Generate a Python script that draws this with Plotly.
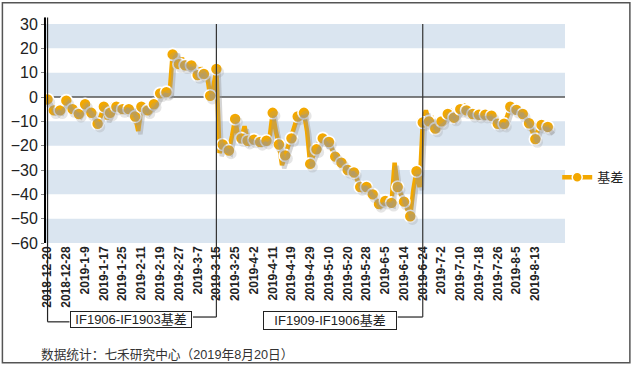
import pandas as pd
import plotly.graph_objects as go

# ---------------- data ----------------
holidays = ["2018-12-31", "2019-01-01", "2019-02-04", "2019-02-05", "2019-02-06",
            "2019-02-07", "2019-02-08", "2019-04-05", "2019-05-01", "2019-05-02",
            "2019-05-03", "2019-06-07"]
trade_days = [d for d in pd.bdate_range("2018-12-20", "2019-08-20")
              if d.strftime("%Y-%m-%d") not in holidays]
dates = [f"{d.year}-{d.month}-{d.day}" for d in trade_days]

basis = [
    -1, -3, -5.5, -5, -5.5, -3, -1.5, -4, -5, -6,
    -7, -5, -3, -5, -6.5, -9, -11, -8, -4, -9,
    -6.5, -2.5, -4, -4.5, -5, -4, -5, -4.5, -8, -14,
    -4, -3.5, -5.5, -4, -3, -1, 1.5, 2, 2, 1,
    17.5, 19, 13.5, 16, 13, 12.5, 13, 11, 9, 12,
    9.5, 9, 0.5, 4, 11.5, -23, -19.5, -21, -22, -16,
    -9, -17, -17, -12, -18, -17, -17.5, -17, -18.5, -18,
    -18, -17, -6.5, -14, -19.5, -28, -24, -20, -17, -12,
    -8, -7, -6.5, -14, -27.5, -24, -21.5, -18, -17, -19,
    -18.5, -22, -24.5, -25, -27, -28, -30, -30, -31, -34,
    -37, -36, -37, -39, -40, -42, -44, -43, -42.7, -43,
    -43.5, -27, -37, -40, -43, -46, -49, -38, -30.5, -37,
    -10.5, -5.5, -10, -9, -13, -11, -10, -9, -7, -6,
    -8.5, -7, -5, -3, -5.5, -6, -7, -7, -7.3, -7.5,
    -7.3, -7.5, -7.7, -9, -11, -10, -11, -8, -4, -5,
    -5.3, -6, -7, -9, -10.8, -14, -17.3, -13, -11.5, -12,
    -12.3, -14,
]
series_name = "基差"
contract_labels = ["IF1906-IF1903基差", "IF1909-IF1906基差"]
switch_dates = ["2019-3-15", "2019-6-24"]
y_ticks = [30, 20, 10, 0, -10, -20, -30, -40, -50, -60]
footer = "数据统计：七禾研究中心（2019年8月20日）"

assert len(dates) == len(basis)

ORANGE = "#f3a800"
BAND = "#dae5f0"
FONT = "Liberation Sans, Arial, Noto Sans CJK SC, sans-serif"

fig = go.Figure()

# shadow of the line (drawn on a slightly shifted overlay axis)
fig.add_trace(go.Scatter(x=dates, y=basis, mode="lines", xaxis="x2", yaxis="y2",
                         line=dict(color="rgba(150,150,150,0.4)", width=4.5),
                         showlegend=False, hoverinfo="skip"))
fig.add_trace(go.Scatter(x=dates[::2], y=basis[::2], mode="markers", xaxis="x2", yaxis="y2",
                         marker=dict(color="rgba(150,150,150,0.25)", size=11),
                         showlegend=False, hoverinfo="skip"))
# main line
fig.add_trace(go.Scatter(x=dates, y=basis, mode="lines",
                         line=dict(color=ORANGE, width=4.5), showlegend=False))
fig.add_trace(go.Scatter(x=dates[::2], y=basis[::2], mode="markers",
                         marker=dict(color=ORANGE, size=12, line=dict(color="white", width=1.6)),
                         showlegend=False))
# legend entry
fig.add_trace(go.Scatter(x=[None], y=[None], mode="lines+markers", name=series_name,
                         line=dict(color=ORANGE, width=4.5),
                         marker=dict(color=ORANGE, size=10, line=dict(color="white", width=1.5))))

shapes = []
# horizontal bands
for lo in range(-60, 30, 20):
    shapes.append(dict(type="rect", xref="paper", yref="y", x0=0, x1=1, y0=lo, y1=lo + 10,
                       fillcolor=BAND, line=dict(width=0), layer="below"))
# zero line
shapes.append(dict(type="line", xref="paper", yref="y", x0=0, x1=1, y0=0, y1=0,
                   line=dict(color="#555555", width=1.5), layer="below"))

# y-axis line extension above the top tick
shapes.append(dict(type="line", xref="paper", yref="paper", x0=-0.002, x1=-0.002, y0=1.0, y1=1.03,
                   line=dict(color="#000", width=2)))

# brackets
y_top = 1.03
y_b1 = -0.36
y_b2 = -0.338
i1 = dates.index(switch_dates[0])
i2 = dates.index(switch_dates[1])
# bracket 1
shapes += [
    dict(type="line", xref="x", yref="paper", x0=0, x1=0, y0=y_top, y1=y_b1,
         line=dict(color="#222", width=1.2)),
    dict(type="line", xref="x", yref="paper", x0=0, x1=7.0, y0=y_b1, y1=y_b1,
         line=dict(color="#222", width=1.2)),
    dict(type="line", xref="x", yref="paper", x0=46.5, x1=i1, y0=y_b2, y1=y_b2,
         line=dict(color="#222", width=1.2)),
    dict(type="line", xref="x", yref="paper", x0=i1, x1=i1, y0=1.0, y1=y_b2,
         line=dict(color="#333", width=1.2)),
]
# bracket 2
shapes += [
    dict(type="line", xref="x", yref="paper", x0=112, x1=i2, y0=y_b2, y1=y_b2,
         line=dict(color="#222", width=1.2)),
    dict(type="line", xref="x", yref="paper", x0=i2, x1=i2, y0=1.0, y1=y_b2,
         line=dict(color="#333", width=1.2)),
]
# outer border
shapes.append(dict(type="rect", xref="paper", yref="paper",
                   x0=-0.084, x1=1.125, y0=-0.547, y1=1.0975,
                   line=dict(color="#555", width=1.5), layer="above"))

annotations = [
    dict(text=contract_labels[0], xref="paper", yref="paper", x=0.1647, y=y_b1 + 0.012,
         xanchor="center", yanchor="middle",
         showarrow=False, font=dict(family=FONT, size=13, color="#222"),
         bordercolor="#222", borderwidth=1, bgcolor="white", width=118, height=13, borderpad=1),
    dict(text=contract_labels[1], xref="paper", yref="paper", x=0.547, y=y_b2 - 0.018,
         xanchor="center", yanchor="middle",
         showarrow=False, font=dict(family=FONT, size=13, color="#222"),
         bordercolor="#222", borderwidth=1, bgcolor="white", width=130, height=15, borderpad=1),
    dict(text=footer, xref="paper", yref="paper", x=-0.014, y=-0.51, xanchor="left",
         yanchor="middle", showarrow=False, font=dict(family=FONT, size=12.7, color="#333")),
]

fig.update_layout(
    width=636, height=367,
    margin=dict(l=46, r=71, t=24, b=124, autoexpand=False),
    paper_bgcolor="white", plot_bgcolor="white",
    font=dict(family=FONT, color="#222"),
    shapes=shapes, annotations=annotations,
    xaxis=dict(type="category", categoryorder="array", categoryarray=dates,
               range=[-0.5, 165.5], tickmode="array", tickvals=dates[::6], ticktext=dates[::6],
               tickangle=-90, tickfont=dict(size=12, weight="bold", color="#222"),
               showgrid=False, zeroline=False, showline=False, ticks=""),
    yaxis=dict(range=[-60, 30], tickvals=y_ticks, tickfont=dict(size=16, color="#222"),
               showgrid=False, zeroline=False, showline=True, linecolor="#000", linewidth=2,
               ticks="outside", ticklen=3, tickcolor="#888"),
    xaxis2=dict(type="category", categoryorder="array", categoryarray=dates, overlaying="x",
                range=[-0.5 - 0.7, 165.5 - 0.7], visible=False),
    yaxis2=dict(range=[-60 + 1.3, 30 + 1.3], overlaying="y", visible=False),
    legend=dict(x=0.985, y=0.3, xanchor="left", yanchor="middle", bgcolor="rgba(0,0,0,0)",
                font=dict(size=13, color="#222"), itemwidth=30),
    showlegend=True,
)

fig.write_html("out.html", config={"displayModeBar": False},
               post_script="document.body.style.margin='0';")
